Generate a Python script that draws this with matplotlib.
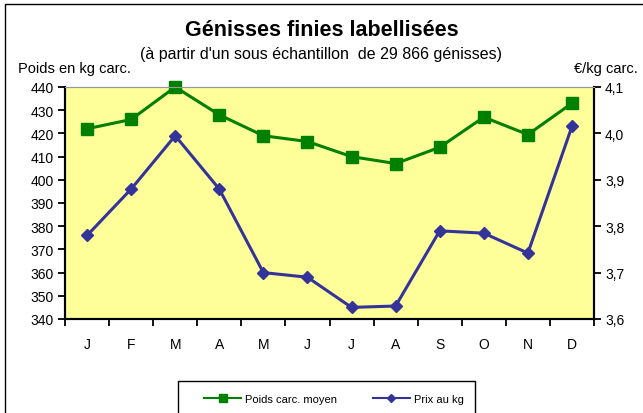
import matplotlib
matplotlib.use('Agg')
import matplotlib.pyplot as plt
from matplotlib.patches import Rectangle
from matplotlib.ticker import FixedLocator, FuncFormatter
from matplotlib.lines import Line2D

plt.rcParams['font.family'] = ['Liberation Sans', 'DejaVu Sans']

months = ['J', 'F', 'M', 'A', 'M', 'J', 'J', 'A', 'S', 'O', 'N', 'D']
poids = [422, 426, 440, 428, 419, 416.5, 410, 407, 414, 427, 419.5, 433]
prix = [3.78, 3.88, 3.995, 3.88, 3.70, 3.69, 3.625, 3.628, 3.79, 3.785, 3.742, 4.015]

fig = plt.figure(figsize=(6.43, 4.14), dpi=100)
ax = fig.add_axes([65/643, 1-320/414, 529/643, 232/414])
ax.set_facecolor('#FFFF99')

x = list(range(len(months)))
ax.plot(x, poids, color='#008000', lw=2.2, marker='s', ms=8, clip_on=False, zorder=3)
ax.set_xlim(-0.5, 11.5)
ax.set_ylim(340, 440)
ax.set_yticks(range(340, 441, 10))
ax.set_xticks(x)
ax.set_xticklabels(months)
ax.xaxis.set_minor_locator(FixedLocator([i - 0.5 for i in range(13)]))
ax.tick_params(axis='x', which='major', length=0, pad=13, labelsize=10)
ax.tick_params(axis='x', which='minor', length=5, width=1.3, direction='out')
ax.tick_params(axis='y', length=5, width=1.3, direction='out', labelsize=10, pad=3)

ax2 = ax.twinx()
ax2.plot(x, prix, color='#333399', lw=2.2, marker='D', ms=6, clip_on=False, zorder=3)
ax2.set_ylim(3.6, 4.1)
ax2.set_yticks([3.6, 3.7, 3.8, 3.9, 4.0, 4.1])
ax2.yaxis.set_major_formatter(FuncFormatter(lambda v, p: ('%.1f' % v).replace('.', ',')))
ax2.tick_params(axis='y', length=5, width=1.3, direction='out', labelsize=10, pad=3)

for a in (ax, ax2):
    a.spines['left'].set_linewidth(1.5)
    a.spines['bottom'].set_linewidth(1.5)
    a.spines['right'].set_linewidth(1.5)
    a.spines['top'].set_color('#999999')
    a.spines['top'].set_linewidth(0.8)

fig.text(0.5, 1-31/414, 'Génisses finies labellisées', ha='center', va='center',
         fontsize=15.5, fontweight='bold')
fig.text(0.5, 1-54/414, "(à partir d'un sous échantillon  de 29 866 génisses)",
         ha='center', va='center', fontsize=11.5)
fig.text(18/643, 1-69/414, 'Poids en kg carc.', ha='left', va='center', fontsize=10.5)
fig.text(638/643, 1-69/414, '€/kg carc.', ha='right', va='center', fontsize=10.5)

# outer frame
fig.patches.append(Rectangle((5/643, -0.1), 1.0, 1.1 - 5/414, transform=fig.transFigure,
                             fill=False, edgecolor='black', lw=1))
# legend box
fig.patches.append(Rectangle((178/643, -0.1), 297/643, 0.1 + 1 - 382/414,
                             transform=fig.transFigure, fill=False, edgecolor='black', lw=1))
handles = [Line2D([], [], color='#008000', lw=1.5, marker='s', ms=6),
           Line2D([], [], color='#333399', lw=1.5, marker='D', ms=4)]
fig.legend(handles, ['Poids carc. moyen', 'Prix au kg'], loc='center',
           bbox_to_anchor=(334/643, 1-400/414), ncol=2, frameon=False, fontsize=8,
           handlelength=3.3, columnspacing=3.2, handletextpad=0.4)

fig.savefig('out.png', dpi=100)
